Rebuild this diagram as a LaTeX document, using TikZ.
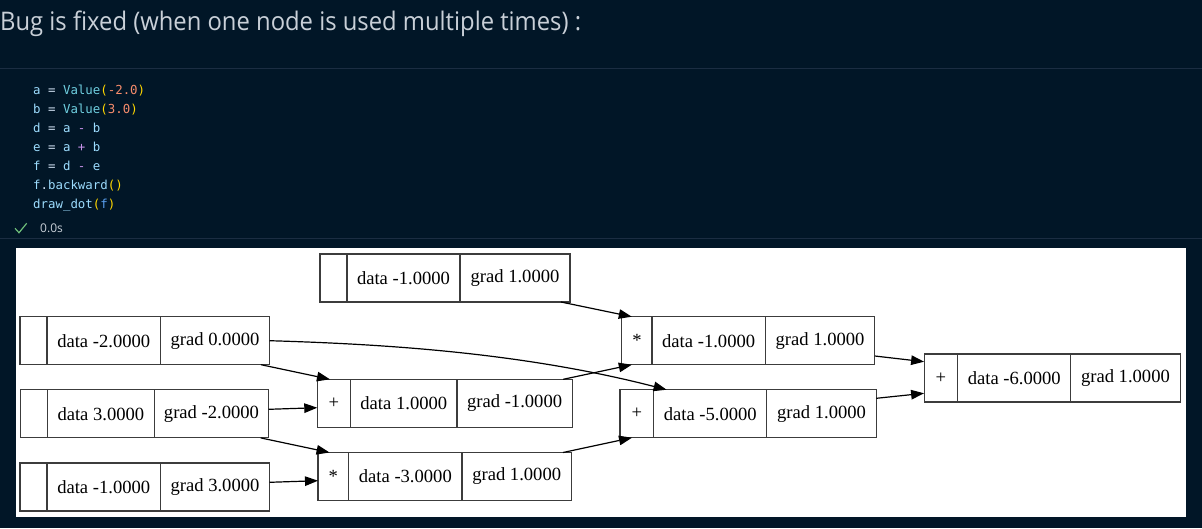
\documentclass[tikz,border=0pt]{standalone}
\usepackage{fontspec}
\setmainfont{Liberation Serif}
\newfontfamily\uifont{Open Sans}
\newfontfamily\codefont{DejaVu Sans Mono}
\usetikzlibrary{arrows.meta}
\definecolor{bgnavy}{HTML}{011627}
\definecolor{sepline}{HTML}{1B2D42}
\definecolor{uitext}{HTML}{C9D0D8}
\definecolor{cid}{HTML}{9CDCFE}
\definecolor{ccls}{HTML}{6FCFE0}
\definecolor{cpar}{HTML}{FFD700}
\definecolor{cnum}{HTML}{F78C6C}
\definecolor{cop}{HTML}{C792EA}
\definecolor{ceq}{HTML}{C8D8EA}
\definecolor{cblue}{HTML}{5AA0F0}
\definecolor{cgreen}{HTML}{6FBF7A}
\definecolor{cellline}{HTML}{3C3C3C}
\newcommand{\rec}[9]{%
  \node[cell, minimum width=#4pt, anchor=west] (#1-o) at (#2,#3) {#7};
  \node[cell, minimum width=#5pt, anchor=west] (#1-d) at (#1-o.east) {#8};
  \node[cell, minimum width=#6pt, anchor=west] (#1-g) at (#1-d.east) {#9};
}
\begin{document}
\begin{tikzpicture}[x=1pt,y=-1pt,
  cell/.style={draw=cellline, line width=1.1pt, minimum height=48pt, inner sep=0pt, outer sep=0pt,
    font=\fontsize{18.6}{20}\selectfont, text=black},
  edge/.style={draw=black, line width=1.2pt, -{Triangle[length=13pt,width=9.5pt]}},
  codeline/.style={anchor=base west, inner sep=0pt, font=\codefont\fontsize{12.4}{14}\selectfont, text=cid}]
\useasboundingbox (0,0) rectangle (1202,528);
\fill[bgnavy] (0,0) rectangle (1202,528);
% header
\node[anchor=base west, inner sep=0pt, text=uitext, font=\uifont\fontsize{25.6}{30}\selectfont] (title) at (0,30) {\scalebox{0.93}[1]{Bug is fixed (when one node is used multiple times) :}};
\draw[sepline, line width=1pt] (0,68.3) -- (1202,68.3);
% code
\node[codeline] (l1) at (33,94.5) {a \textcolor{ceq}{=} \textcolor{ccls}{Value}\textcolor{cpar}{(}\textcolor{cnum}{-2.0}\textcolor{cpar}{)}};
\node[codeline] (l2) at (33,113.5) {b \textcolor{ceq}{=} \textcolor{ccls}{Value}\textcolor{cpar}{(}\textcolor{cnum}{3.0}\textcolor{cpar}{)}};
\node[codeline] (l3) at (33,132.5) {d \textcolor{ceq}{=} a \textcolor{cop}{-} b};
\node[codeline] (l4) at (33,151.5) {e \textcolor{ceq}{=} a \textcolor{cop}{+} b};
\node[codeline] (l5) at (33,170.5) {f \textcolor{ceq}{=} d \textcolor{cop}{-} e};
\node[codeline] (l6) at (33,189.5) {f\textcolor{ceq}{.}backward\textcolor{cpar}{()}};
\node[codeline] (l7) at (33,208.5) {draw\_dot\textcolor{cpar}{(}\textcolor{cblue}{f}\textcolor{cpar}{)}};
% status
\draw[cgreen, line width=1.2pt] (15,228.3) -- (19,232.7) -- (26.7,223.3);
\node[anchor=base west, inner sep=0pt, text=uitext, font=\uifont\fontsize{12}{14}\selectfont] (time) at (40,232.5) {0.0s};
\draw[sepline, line width=1pt] (0,238.3) -- (1202,238.3);
% white panel
\fill[white] (15.5,247.7) rectangle (1186,516.7);
% records
\rec{R1}{320}{278}{27}{113}{110}{}{data -1.0000}{grad 1.0000}
\rec{A}{20}{340.7}{27}{113.5}{109}{}{data -2.0000}{grad 0.0000}
\rec{B}{20.3}{413.9}{27.2}{106.8}{114.4}{}{data 3.0000}{grad -2.0000}
\rec{C2}{20}{487}{27}{113.5}{109}{}{data -1.0000}{grad 3.0000}
\rec{D}{317.3}{403.3}{33.3}{106.4}{115.2}{+}{data 1.0000}{grad -1.0000}
\rec{E}{318}{476.5}{30.7}{113.3}{109.4}{*}{data -3.0000}{grad 1.0000}
\rec{F}{621.8}{340.7}{30.2}{113.3}{109.5}{*}{data -1.0000}{grad 1.0000}
\rec{G}{620}{413.7}{33.6}{113.3}{109.4}{+}{data -5.0000}{grad 1.0000}
\rec{H}{924.1}{378}{33.7}{112.9}{109.5}{+}{data -6.0000}{grad 1.0000}
% edges
\draw[edge] ([xshift=-8.5pt]A-g.south east) -- ([xshift=-4pt]D-o.north);
\draw[edge] ([yshift=4.6pt]B-g.east) -- ([yshift=-4.4pt]D-o.west);
\draw[edge] ([xshift=-8pt]B-g.south east) -- ([xshift=-3.8pt]E-o.north);
\draw[edge] ([yshift=4.7pt]C2-g.east) -- ([yshift=-4.2pt]E-o.west);
\draw[edge] (A-g.east) .. controls (380,344) and (520,352) .. ([xshift=13pt]G-d.north west);
\draw[edge] ([xshift=-9pt]D-g.north east) -- ([xshift=10pt]F-o.south west);
\draw[edge] ([xshift=-9pt]R1-g.south east) -- ([xshift=10pt]F-o.north west);
\draw[edge] ([xshift=-8.4pt]E-g.north east) -- ([xshift=12pt]G-o.south west);
\draw[edge] ([yshift=-15.3pt]F-g.east) -- ([yshift=16.3pt]H-o.west);
\draw[edge] ([yshift=15.4pt]G-g.east) -- ([yshift=-15.3pt]H-o.west);
\end{tikzpicture}
\end{document}
